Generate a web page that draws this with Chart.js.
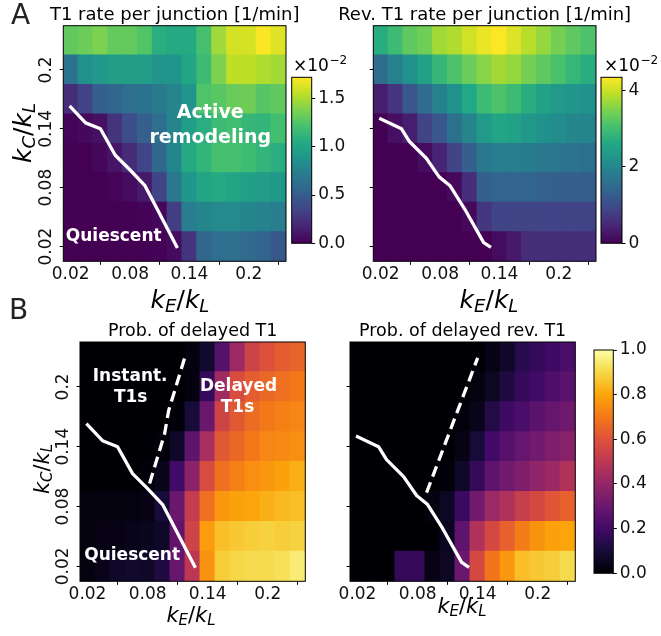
<!DOCTYPE html>
<html>
<head>
<meta charset="utf-8">
<script src="https://cdn.jsdelivr.net/npm/chart.js@4.4.1/dist/chart.umd.min.js"></script>
<style>
  html, body { margin: 0; padding: 0; background: #fff; }
  #fig { position: relative; width: 661px; height: 636px; overflow: hidden; background: #fff; }
  #fig canvas { position: absolute; left: 0; top: 0; }
</style>
</head>
<body>
<div id="fig">
  <canvas id="tl" width="661" height="636"></canvas>
  <canvas id="tr" width="661" height="636"></canvas>
  <canvas id="bl" width="661" height="636"></canvas>
  <canvas id="br" width="661" height="636"></canvas>
  <canvas id="cb1" width="661" height="636"></canvas>
  <canvas id="cb2" width="661" height="636"></canvas>
  <canvas id="cb3" width="661" height="636"></canvas>
</div>
<script>
// ---- parameter grid -------------------------------------------------------
const kE = [0.02, 0.035, 0.05, 0.065, 0.08, 0.095, 0.11, 0.125, 0.14, 0.155, 0.17, 0.185, 0.2, 0.215, 0.23];
const kC = [0.02, 0.05, 0.08, 0.11, 0.14, 0.17, 0.2, 0.23];
const axisTicks = [0.02, 0.08, 0.14, 0.2];
const axisTickLabels = ['0.02', '0.08', '0.14', '0.2'];

// T1 rate per junction [x1e-2 1/min]; one row per kC (ascending), one column per kE
const t1Rate = [
  [0, 0, 0, 0, 0, 0, 0.01, 0.05, 0.26, 0.57, 0.62, 0.62, 0.59, 0.55, 0.47],
  [0, 0, 0, 0, 0, 0.01, 0.03, 0.31, 0.73, 0.78, 0.81, 0.81, 0.78, 0.76, 0.73],
  [0, 0, 0, 0.02, 0.05, 0.12, 0.35, 0.69, 0.90, 1.00, 1.04, 1.00, 0.97, 0.95, 0.92],
  [0, 0, 0.03, 0.10, 0.21, 0.35, 0.57, 0.78, 1.04, 1.12, 1.21, 1.21, 1.18, 1.12, 1.07],
  [0.02, 0.04, 0.08, 0.26, 0.40, 0.52, 0.62, 0.77, 0.95, 1.07, 1.17, 1.20, 1.14, 1.12, 1.20],
  [0.22, 0.34, 0.52, 0.57, 0.62, 0.65, 0.70, 0.77, 0.88, 1.24, 1.27, 1.32, 1.34, 1.26, 1.30],
  [0.65, 0.86, 0.91, 0.96, 0.96, 0.95, 0.89, 0.89, 1.00, 1.17, 1.38, 1.55, 1.55, 1.51, 1.48],
  [1.30, 1.33, 1.38, 1.31, 1.31, 1.25, 1.07, 1.04, 1.04, 1.21, 1.47, 1.61, 1.61, 1.71, 1.64]
];

// Reverse T1 rate per junction [x1e-2 1/min]
const revT1Rate = [
  [0, 0, 0, 0, 0, 0, 0, 0, 0.13, 0.30, 0.55, 0.57, 0.57, 0.57, 0.57],
  [0, 0, 0, 0, 0, 0, 0.09, 0.69, 0.87, 0.87, 0.87, 0.87, 0.87, 0.87, 0.85],
  [0, 0, 0, 0, 0, 0.09, 0.56, 1.30, 1.39, 1.39, 1.39, 1.35, 1.32, 1.30, 1.28],
  [0, 0, 0, 0.13, 0.43, 0.87, 1.30, 1.74, 1.82, 1.82, 1.78, 1.74, 1.68, 1.63, 1.60],
  [0, 0.17, 0.35, 0.87, 1.17, 1.60, 1.95, 2.34, 2.52, 2.47, 2.30, 2.17, 2.08, 2.00, 1.95],
  [0.35, 0.65, 1.17, 1.52, 1.87, 2.17, 2.60, 2.95, 3.12, 2.95, 2.69, 2.47, 2.34, 2.26, 2.17],
  [1.52, 1.87, 2.17, 2.47, 2.86, 3.12, 3.34, 3.56, 3.73, 3.65, 3.43, 3.26, 3.08, 2.86, 2.69],
  [2.69, 2.95, 3.26, 3.39, 3.73, 3.82, 4.04, 4.21, 4.34, 4.12, 3.86, 3.65, 3.43, 3.26, 3.12]
];

// Probability that a T1 is delayed
const probDelayed = [
  [0.02, 0.04, 0.07, 0.08, 0.07, 0.12, 0.29, 0.50, 0.76, 0.88, 0.90, 0.91, 0.91, 0.92, 0.95],
  [0.02, 0.03, 0.03, 0.04, 0.05, 0.07, 0.28, 0.55, 0.78, 0.85, 0.87, 0.88, 0.89, 0.88, 0.89],
  [0.02, 0.02, 0.02, 0.02, 0.03, 0.10, 0.30, 0.52, 0.68, 0.77, 0.79, 0.80, 0.82, 0.84, 0.85],
  [0, 0, 0, 0, 0.01, 0.04, 0.20, 0.38, 0.58, 0.68, 0.72, 0.75, 0.77, 0.79, 0.82],
  [0, 0, 0, 0, 0, 0.01, 0.07, 0.27, 0.45, 0.62, 0.66, 0.70, 0.73, 0.74, 0.75],
  [0, 0, 0, 0, 0, 0, 0.01, 0.10, 0.30, 0.55, 0.62, 0.67, 0.70, 0.72, 0.73],
  [0, 0, 0, 0, 0, 0, 0, 0.02, 0.17, 0.43, 0.58, 0.63, 0.66, 0.68, 0.70],
  [0, 0, 0, 0, 0, 0, 0, 0.02, 0.08, 0.25, 0.42, 0.55, 0.60, 0.63, 0.65]
];

// Probability that a reverse T1 is delayed
const probDelayedRev = [
  [0, 0, 0, 0.17, 0.17, 0.03, 0.06, 0.30, 0.57, 0.69, 0.77, 0.85, 0.87, 0.88, 0.91],
  [0, 0, 0, 0, 0, 0, 0.05, 0.27, 0.47, 0.57, 0.64, 0.71, 0.76, 0.79, 0.80],
  [0, 0, 0, 0, 0, 0.02, 0.06, 0.18, 0.32, 0.42, 0.47, 0.53, 0.57, 0.61, 0.64],
  [0, 0, 0, 0, 0, 0, 0.01, 0.07, 0.17, 0.27, 0.32, 0.35, 0.39, 0.42, 0.47],
  [0, 0, 0, 0, 0, 0, 0, 0.03, 0.10, 0.20, 0.25, 0.29, 0.32, 0.35, 0.37],
  [0, 0, 0, 0, 0, 0, 0, 0.01, 0.04, 0.13, 0.19, 0.22, 0.26, 0.29, 0.31],
  [0, 0, 0, 0, 0, 0, 0, 0, 0.02, 0.06, 0.12, 0.17, 0.20, 0.23, 0.26],
  [0, 0, 0, 0, 0, 0, 0, 0, 0, 0.03, 0.07, 0.14, 0.17, 0.19, 0.22]
];

// colour ranges and colourbar ticks
const t1Max = 1.72, t1Ticks = [0, 0.5, 1.0, 1.5];
const revMax = 4.34, revTicks = [0, 2, 4];
const probMax = 1.0, probTicks = [0, 0.2, 0.4, 0.6, 0.8, 1.0];

// quiescent boundary (forward T1) and (reverse T1)
const quiescentX = [0.02, 0.035, 0.05, 0.065, 0.08, 0.095, 0.108, 0.127];
const quiescentY = [0.162, 0.146, 0.140, 0.113, 0.098, 0.082, 0.057, 0.02];
const quiescentRevX = [0.02, 0.041, 0.049, 0.066, 0.079, 0.09, 0.105, 0.124, 0.13];
const quiescentRevY = [0.150, 0.140, 0.127, 0.110, 0.091, 0.082, 0.058, 0.024, 0.02];
// instant / delayed boundary
const delayX = [0.082, 0.097, 0.101, 0.117];
const delayY = [0.103, 0.153, 0.176, 0.229];
const delayRevX = [0.089, 0.14];
const delayRevY = [0.094, 0.229];

// ---- colour maps ----------------------------------------------------------
const VIRIDIS = [[68,1,84],[72,36,117],[65,68,135],[53,95,141],[42,120,142],[33,145,140],[34,168,132],[68,191,112],[122,209,81],[189,223,38],[253,231,37]];
const INFERNO = [[0,0,4],[22,11,57],[66,10,104],[106,23,110],[147,38,103],[188,55,84],[221,81,58],[243,120,25],[252,165,10],[246,215,70],[252,255,164]];

function colourAt(stops, t) {
  t = Math.max(0, Math.min(1, t));
  const p = t * (stops.length - 1);
  const i = Math.min(Math.floor(p), stops.length - 2);
  const f = p - i, a = stops[i], b = stops[i + 1];
  const c = [0, 1, 2].map(k => Math.round(a[k] + (b[k] - a[k]) * f));
  return `rgb(${c[0]},${c[1]},${c[2]})`;
}

const FONT = "'DejaVu Sans', sans-serif";
const PAGE_W = 661, PAGE_H = 636;
const Y_AXIS_W = 40, X_AXIS_H = 30, CB_AXIS_W = 40;

function tickLabel(v) {
  const i = axisTicks.findIndex(t => Math.abs(t - v) < 1e-9);
  return i < 0 ? null : axisTickLabels[i];
}

// k_a / k_b label, centred on (cx, baseline cy); optionally rotated to read upward
function drawRatio(ctx, cx, cy, size, a, b, rotated) {
  const it = `italic ${size}px ${FONT}`;
  const sub = `italic ${Math.round(size * 0.7)}px ${FONT}`;
  const rm = `${size}px ${FONT}`;
  const drop = size * 0.15;
  const parts = [['k', it, 0], [a, sub, drop], ['/', rm, 0], ['k', it, 0], [b, sub, drop]];
  let w = 0;
  parts.forEach(p => { ctx.font = p[1]; p.w = ctx.measureText(p[0]).width; w += p.w; });
  ctx.save();
  ctx.translate(cx, cy);
  if (rotated) ctx.rotate(-Math.PI / 2);
  ctx.fillStyle = '#000';
  ctx.textAlign = 'left';
  ctx.textBaseline = 'alphabetic';
  let x = -w / 2;
  parts.forEach(p => { ctx.font = p[1]; ctx.fillText(p[0], x, p[2]); x += p.w; });
  ctx.restore();
}

function plainText(ctx, s, x, y, font, color, align) {
  ctx.save();
  ctx.font = font;
  ctx.fillStyle = color || '#000';
  ctx.textAlign = align || 'center';
  ctx.textBaseline = 'alphabetic';
  ctx.fillText(s, x, y);
  ctx.restore();
}

// ---- heat-map panels ------------------------------------------------------
function heatmap(cfg) {
  const datasets = [];
  cfg.lines.forEach(l => {
    datasets.push({
      type: 'line',
      data: l.x.map((x, i) => ({ x: x, y: l.y[i] })),
      borderColor: '#ffffff',
      borderWidth: 3.3,
      borderDash: l.dash || [],
      borderCapStyle: l.dash ? 'butt' : 'square',
      borderJoinStyle: 'round',
      pointRadius: 0,
      fill: false,
      tension: 0,
      order: 0
    });
  });
  kC.forEach((c, r) => {
    datasets.push({
      type: 'bar',
      data: kE.map(e => ({ x: e, y: [c - 0.015, c + 0.015] })),
      backgroundColor: kE.map((e, j) => colourAt(cfg.cmap, cfg.values[r][j] / cfg.vmax)),
      borderWidth: 0,
      barPercentage: 1,
      categoryPercentage: 1,
      grouped: false,
      inflateAmount: 0.6,
      order: 1
    });
  });

  const a = cfg.area;
  const decor = {
    id: 'decor_' + cfg.id,
    afterDatasetsDraw(chart) {
      const ctx = chart.ctx, ca = chart.chartArea;
      const sx = chart.scales.x, sy = chart.scales.y;
      (cfg.notes || []).forEach(n => {
        plainText(ctx, n.text, sx.getPixelForValue(n.x), sy.getPixelForValue(n.y),
          `bold ${n.size}px ${FONT}`, '#ffffff', 'center');
      });
      ctx.save();
      ctx.strokeStyle = '#000';
      ctx.lineWidth = 1;
      ctx.strokeRect(ca.left, ca.top, ca.right - ca.left, ca.bottom - ca.top);
      ctx.restore();
    },
    afterDraw(chart) {
      const ctx = chart.ctx, ca = chart.chartArea;
      const cx = (ca.left + ca.right) / 2;
      plainText(ctx, cfg.title, cx, cfg.titleY, `${cfg.titleSize}px ${FONT}`, '#000', 'center');
      drawRatio(ctx, cfg.xLabel.x, cfg.xLabel.y, cfg.labelSize, 'E', 'L', false);
      if (cfg.yLabel) drawRatio(ctx, cfg.yLabel.x, cfg.yLabel.y, cfg.labelSize, 'C', 'L', true);
      if (cfg.letter) plainText(ctx, cfg.letter.text, cfg.letter.x, cfg.letter.y, `${cfg.letter.size}px ${FONT}`, '#222', 'left');
    }
  };

  new Chart(document.getElementById(cfg.id), {
    type: 'bar',
    data: { datasets: datasets },
    plugins: [decor],
    options: {
      responsive: false,
      animation: false,
      events: [],
      layout: { padding: {
        left: a.left - Y_AXIS_W, top: a.top,
        right: PAGE_W - a.right, bottom: PAGE_H - a.bottom - X_AXIS_H } },
      plugins: { legend: { display: false }, tooltip: { enabled: false }, title: { display: false } },
      scales: {
        x: {
          type: 'linear', min: 0.0125, max: 0.2375, offset: false,
          afterBuildTicks: s => { s.ticks = axisTicks.map(v => ({ value: v })); },
          afterFit: s => { s.height = X_AXIS_H; },
          ticks: { callback: v => tickLabel(v), color: '#111', font: { family: FONT, size: 17, lineHeight: 1.2 }, padding: 0, maxRotation: 0, minRotation: 0, autoSkip: false },
          grid: { display: true, drawOnChartArea: false, drawTicks: true, tickLength: 3.5, color: '#000', lineWidth: 1 },
          border: { display: false }
        },
        y: {
          type: 'linear', min: 0.005, max: 0.245,
          afterBuildTicks: s => { s.ticks = axisTicks.map(v => ({ value: v })); },
          afterFit: s => { s.width = Y_AXIS_W; },
          ticks: { display: cfg.yTickLabels, callback: v => tickLabel(v), color: '#111', font: { family: FONT, size: 17 }, padding: -6, minRotation: 90, maxRotation: 90, crossAlign: 'center', autoSkip: false },
          grid: { display: true, drawOnChartArea: false, drawTicks: true, tickLength: 3.5, color: '#000', lineWidth: 1 },
          border: { display: false }
        }
      }
    }
  });
}

// ---- colour bars ----------------------------------------------------------
function colourbar(cfg) {
  const a = cfg.area;
  const deco = {
    id: 'cbdeco_' + cfg.id,
    afterDraw(chart) {
      const ctx = chart.ctx, ca = chart.chartArea;
      ctx.save();
      ctx.strokeStyle = '#000';
      ctx.lineWidth = 1;
      ctx.strokeRect(ca.left, ca.top, ca.right - ca.left, ca.bottom - ca.top);
      ctx.restore();
      if (cfg.offsetText) {
        const o = cfg.offsetText;
        ctx.save();
        ctx.fillStyle = '#000';
        ctx.textAlign = 'left';
        ctx.textBaseline = 'alphabetic';
        ctx.font = `17px ${FONT}`;
        ctx.fillText('\u00d710', o.x, o.y);
        const w = ctx.measureText('\u00d710').width;
        ctx.font = `12px ${FONT}`;
        ctx.fillText('\u22122', o.x + w + 0.5, o.y - 7);
        ctx.restore();
      }
    }
  };
  new Chart(document.getElementById(cfg.id), {
    type: 'bar',
    data: {
      labels: [''],
      datasets: [{
        data: [[0, cfg.vmax]],
        borderWidth: 0,
        barPercentage: 1,
        categoryPercentage: 1,
        backgroundColor: ctx => {
          const ca = ctx.chart.chartArea;
          if (!ca) return null;
          const g = ctx.chart.ctx.createLinearGradient(0, ca.bottom, 0, ca.top);
          for (let i = 0; i <= 40; i++) g.addColorStop(i / 40, colourAt(cfg.cmap, i / 40));
          return g;
        }
      }]
    },
    plugins: [deco],
    options: {
      responsive: false,
      animation: false,
      events: [],
      layout: { padding: { left: a.left, top: a.top, right: PAGE_W - a.right - CB_AXIS_W, bottom: PAGE_H - a.bottom } },
      plugins: { legend: { display: false }, tooltip: { enabled: false } },
      scales: {
        x: { display: false },
        y: {
          position: 'right', min: 0, max: cfg.vmax,
          afterBuildTicks: s => { s.ticks = cfg.ticks.map(v => ({ value: v })); },
          afterFit: s => { s.width = CB_AXIS_W; },
          ticks: { callback: v => v.toFixed(cfg.decimals), color: '#111', font: { family: FONT, size: 17 }, padding: 3, autoSkip: false },
          grid: { display: true, drawOnChartArea: false, drawTicks: true, tickLength: 3.5, color: '#000', lineWidth: 1 },
          border: { display: false }
        }
      }
    }
  });
}

// ---- figure ---------------------------------------------------------------
heatmap({
  id: 'tl', values: t1Rate, cmap: VIRIDIS, vmax: t1Max,
  area: { left: 63.3, top: 25.7, right: 286, bottom: 261.3 },
  yTickLabels: true, labelSize: 25,
  xLabel: { x: 180, y: 308 }, yLabel: { x: 31, y: 133 },
  title: 'T1 rate per junction [1/min]', titleSize: 18, titleY: 20,
  letter: { text: 'A', x: 11, y: 24, size: 28 },
  lines: [{ x: quiescentX, y: quiescentY }],
  notes: [
    { text: 'Active', x: 0.161, y: 0.1506, size: 19 },
    { text: 'remodeling', x: 0.161, y: 0.1258, size: 19 },
    { text: 'Quiescent', x: 0.0634, y: 0.0261, size: 17 }
  ]
});

heatmap({
  id: 'tr', values: revT1Rate, cmap: VIRIDIS, vmax: revMax,
  area: { left: 373.3, top: 25.7, right: 596, bottom: 261.3 },
  yTickLabels: false, labelSize: 25,
  xLabel: { x: 489, y: 308 }, yLabel: null,
  title: 'Rev. T1 rate per junction [1/min]', titleSize: 18, titleY: 20,
  lines: [{ x: quiescentRevX, y: quiescentRevY }],
  notes: []
});

heatmap({
  id: 'bl', values: probDelayed, cmap: INFERNO, vmax: probMax,
  area: { left: 80, top: 342, right: 305.3, bottom: 581.3 },
  yTickLabels: true, labelSize: 21,
  xLabel: { x: 191, y: 622 }, yLabel: { x: 49, y: 469 },
  title: 'Prob. of delayed T1', titleSize: 17.5, titleY: 336,
  letter: { text: 'B', x: 9, y: 319, size: 28 },
  lines: [{ x: quiescentX, y: quiescentY }, { x: delayX, y: delayY, dash: [11, 6] }],
  notes: [
    { text: 'Instant.', x: 0.0626, y: 0.206, size: 17 },
    { text: 'T1s', x: 0.0631, y: 0.1847, size: 17 },
    { text: 'Delayed', x: 0.1708, y: 0.1957, size: 17 },
    { text: 'T1s', x: 0.1698, y: 0.1749, size: 17 },
    { text: 'Quiescent', x: 0.0646, y: 0.0267, size: 17 }
  ]
});

heatmap({
  id: 'br', values: probDelayedRev, cmap: INFERNO, vmax: probMax,
  area: { left: 350, top: 342, right: 575.3, bottom: 581.3 },
  yTickLabels: false, labelSize: 21,
  xLabel: { x: 462, y: 613 }, yLabel: null,
  title: 'Prob. of delayed rev. T1', titleSize: 17.5, titleY: 336,
  lines: [{ x: quiescentRevX, y: quiescentRevY }, { x: delayRevX, y: delayRevY, dash: [11, 6] }],
  notes: []
});

colourbar({ id: 'cb1', cmap: VIRIDIS, vmax: t1Max, ticks: t1Ticks, decimals: 1,
  area: { left: 291.7, top: 77.3, right: 311.7, bottom: 243.3 }, offsetText: { x: 293, y: 71 } });
colourbar({ id: 'cb2', cmap: VIRIDIS, vmax: revMax, ticks: revTicks, decimals: 0,
  area: { left: 601, top: 77.3, right: 622, bottom: 243.3 }, offsetText: { x: 604, y: 71 } });
colourbar({ id: 'cb3', cmap: INFERNO, vmax: probMax, ticks: probTicks, decimals: 1,
  area: { left: 594, top: 350, right: 613.3, bottom: 573.3 } });
</script>
</body>
</html>
